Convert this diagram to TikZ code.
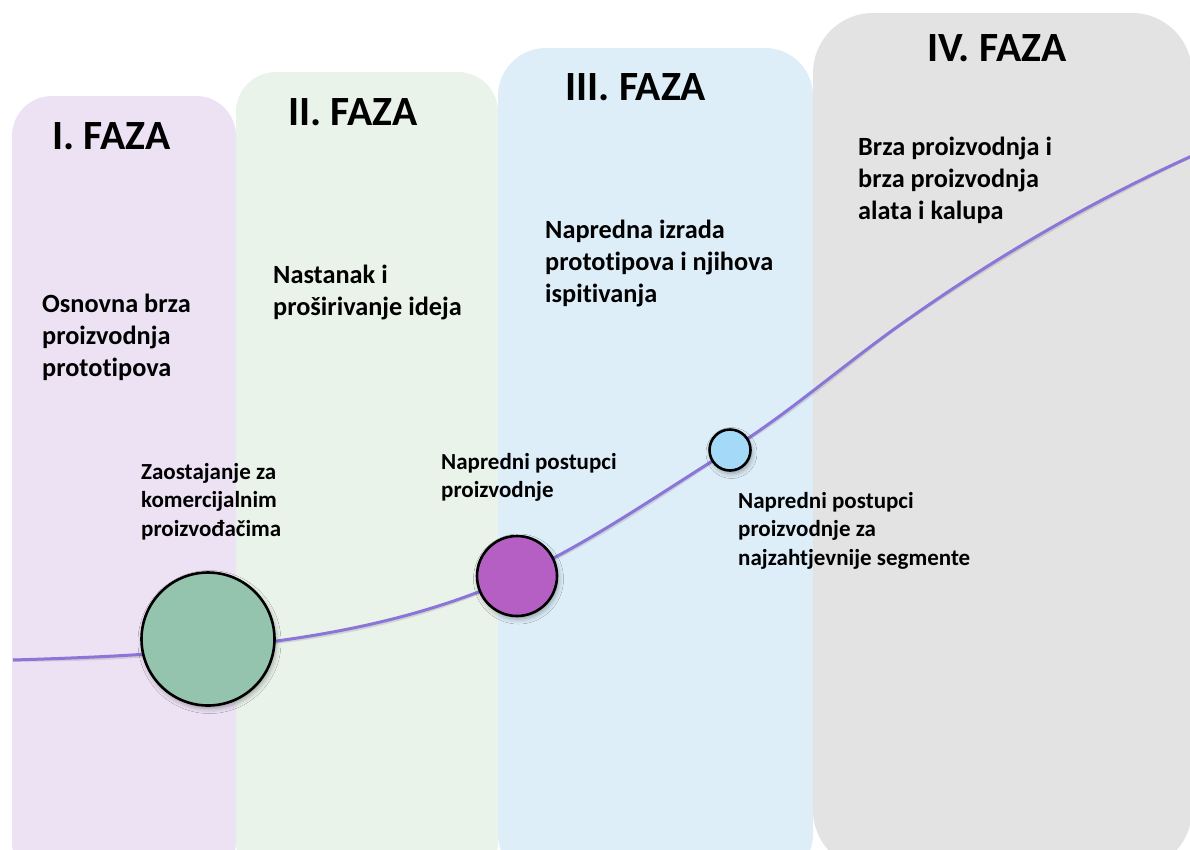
\documentclass[tikz,border=0pt]{standalone}
\usepackage{fontspec}
\setmainfont{Carlito}[Ligatures=NoCommon]
\usetikzlibrary{shadows.blur}
\definecolor{panelA}{HTML}{ECE2F4}
\definecolor{panelB}{HTML}{E9F3EA}
\definecolor{panelC}{HTML}{DDEEF9}
\definecolor{panelD}{HTML}{E3E3E3}
\definecolor{curvec}{HTML}{8C75D9}
\definecolor{dotA}{HTML}{95C4AE}
\definecolor{dotB}{HTML}{B55EC4}
\definecolor{dotC}{HTML}{A4D9F8}
\begin{document}
\begin{tikzpicture}[x=1pt,y=-1pt,
  title/.style={font=\fontsize{41.6}{49}\selectfont\bfseries, anchor=base west, inner sep=0pt},
  body/.style={font=\fontsize{26.3}{32.3}\selectfont\bfseries, anchor=north west, inner sep=0pt, align=left},
  small/.style={font=\fontsize{23}{28.5}\selectfont\bfseries, anchor=north west, inner sep=0pt, align=left},
  dot/.style={circle, draw=black, line width=2.6pt, inner sep=0pt,
    blur shadow={shadow xshift=1.5pt, shadow yshift=-3pt, shadow blur radius=5pt, shadow opacity=35}},
  curveline/.style={draw=curvec, line width=3pt},
  curveshadow/.style={draw=black!60, line width=3.5pt, opacity=0.2}]
\useasboundingbox (0,0) rectangle (1190,849);
\clip (0,0) rectangle (1190,849);
\fill[white] (0,0) rectangle (1190,849);
% panels
\fill[panelA, rounded corners=40pt] (12,96) rectangle (236,882);
\fill[panelB, rounded corners=40pt] (236,72) rectangle (498,882);
\fill[panelC, rounded corners=48pt] (498,48) rectangle (813,882);
\fill[panelD, rounded corners=60pt] (813,13) rectangle (1192,870);
% titles
\node[title] (t1) at (52,149) {I. FAZA};
\node[title] (t2) at (288,125) {II. FAZA};
\node[title] (t3) at (565,100) {III. FAZA};
\node[title] (t4) at (927,61) {IV. FAZA};
% phase texts
\node[body] (b1) at (42,289.5) {\strut Osnovna brza\\proizvodnja\\prototipova};
\node[body] (b2) at (273,260.5) {\strut Nastanak i\\proširivanje ideja};
\node[body] (b3) at (545,215.5) {\strut Napredna izrada\\prototipova i njihova\\ispitivanja};
\node[body] (b4) at (858,132.5) {\strut Brza proizvodnja i\\brza proizvodnja\\alata i kalupa};
% curve
\coordinate (cs) at (13,660);
\coordinate (cA) at (208,639);
\coordinate (pA) at (208,649);
\coordinate (cB) at (517,576);
\coordinate (cC) at (730,450);
\coordinate (cD) at (893,330);
\coordinate (ce) at (1192,156);
\begin{scope}[shift={(1,2)}]
\draw[curveshadow] (cs) .. controls (78,658) and (143,655.5) .. (pA)
  .. controls (311,638.7) and (414,622.4) .. (cB)
  .. controls (588,544) and (659,494) .. (cC)
  .. controls (784.3,416.3) and (838.7,369.1) .. (cD)
  .. controls (992,258.7) and (1092,201) .. (ce);
\end{scope}
\draw[curveline] (cs) .. controls (78,658) and (143,655.5) .. (pA)
  .. controls (311,638.7) and (414,622.4) .. (cB)
  .. controls (588,544) and (659,494) .. (cC)
  .. controls (784.3,416.3) and (838.7,369.1) .. (cD)
  .. controls (992,258.7) and (1092,201) .. (ce);
% milestones
\node[dot, fill=dotA, minimum size=133pt] (mA) at (cA) {};
\node[dot, fill=dotB, minimum size=80pt] (mB) at (cB) {};
\node[dot, fill=dotC, minimum size=41pt] (mC) at (cC) {};
% milestone labels
\node[small] (lA) at (141,459) {\strut Zaostajanje za\\komercijalnim\\proizvođačima};
\node[small] (lB) at (441,449) {\strut Napredni postupci\\proizvodnje};
\node[small] (lC) at (738,488) {\strut Napredni postupci\\proizvodnje za\\najzahtjevnije segmente};
\end{tikzpicture}
\end{document}
